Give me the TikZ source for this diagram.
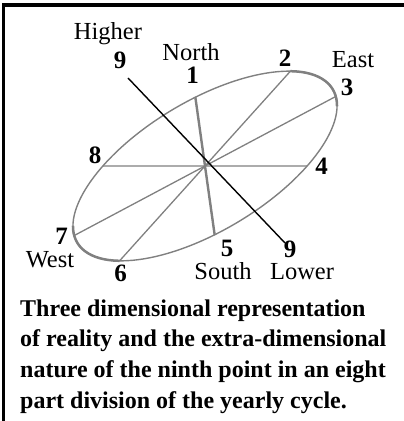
\documentclass[tikz,border=0pt]{standalone}
\usepackage{fontspec}
\setmainfont{Liberation Serif}
\usetikzlibrary{positioning}
\tikzset{
  num/.style={anchor=base, inner sep=0pt, font=\fontsize{25}{28}\selectfont\bfseries},
  word/.style={anchor=base, inner sep=0pt, font=\fontsize{24.5}{28}\selectfont},
  capline/.style={anchor=base west, inner sep=0pt, font=\fontsize{24}{28}\selectfont\bfseries},
  spoke/.style={draw=gray, line width=1.3pt},
}
\begin{document}
\begin{tikzpicture}[x=1pt,y=1pt]
\useasboundingbox (0,0) rectangle (404,421);
% frame
\draw[line width=3.5pt] (3.3,0) -- (3.3,416) -- (404,416);

\coordinate (c) at (205,255);
\begin{scope}[shift={(c)},rotate=31]
  \foreach \n/\t in {4/-54, 3/-6.85, 2/35, 1/79.5, 8/126, 7/173.15, 6/215, 5/259.5}
  {
  \coordinate (p\n) at (\t:149 and 65);
  }
  \draw[gray, line width=1.4pt] (0,0) ellipse [x radius=149, y radius=65];
  \draw[gray, line width=2.5pt] (35:149 and 65) arc [start angle=35, end angle=-15, x radius=149, y radius=65];
  \draw[gray, line width=2.5pt] (165:149 and 65) arc [start angle=165, end angle=215, x radius=149, y radius=65];
\end{scope}

\foreach \a/\b in {8/4, 3/7, 2/6}
  \draw[spoke] (p\a) -- (p\b);
\draw[spoke, line width=2.4pt] (p1) -- (p5);

% the ninth point
\coordinate (hi) at (128,343);
\coordinate (lo) at (285,178);
\draw[line width=1.4pt] (hi) -- (lo);

\node[word] (higher) at (108,381.5) {Higher};
\node[num] (hinine) at (120,352) {9};
\node[word] (north) at (191,360.5) {North};
\node[num] (one) at (192.7,337) {1};
\node[num] (two) at (285,354.3) {2};
\node[word] (east) at (353,353.5) {East};
\node[num] (three) at (347,325) {3};
\node[num] (eight) at (95,257.7) {8};
\node[num] (four) at (321.7,246) {4};
\node[num] (seven) at (61.7,176) {7};
\node[word] (west) at (50,153) {West};
\node[num] (six) at (120.7,139) {6};
\node[num] (five) at (227,164.5) {5};
\node[word] (south) at (223,141) {South};
\node[num] (lonine) at (290,163.5) {9};
\node[word] (lower) at (302,141) {Lower};

% caption
\foreach \i/\y/\txt in {1/104.3/{Three dimensional representation},
                        2/74.3/{of reality and the extra-dimensional},
                        3/43.3/{nature of the ninth point in an eight},
                        4/12.7/{part division of the yearly cycle.}}
  \node[capline] (cap\i) at (20,\y) {\txt};
\end{tikzpicture}
\end{document}
